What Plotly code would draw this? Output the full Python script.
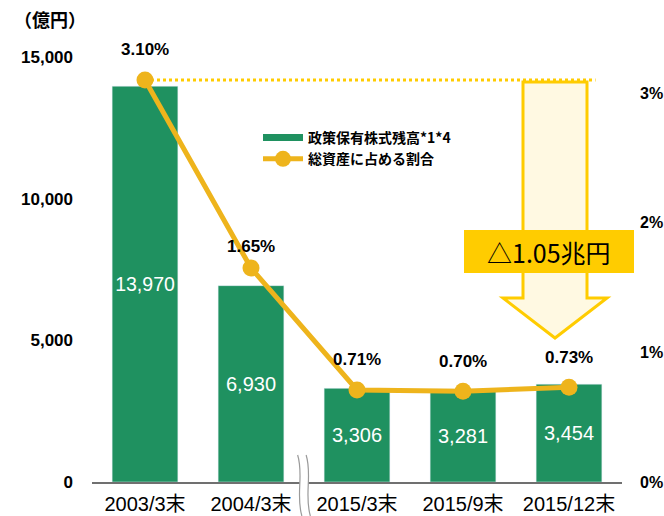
import plotly.graph_objects as go

categories = ["2003/3末", "2004/3末", "2015/3末", "2015/9末", "2015/12末"]
holdings = [13970, 6930, 3306, 3281, 3454]
ratio = [3.10, 1.65, 0.71, 0.70, 0.73]
ratio_labels = ["3.10%", "1.65%", "0.71%", "0.70%", "0.73%"]
ratio_label_shift = [30, 22, 30, 30, 30]
left_ticks = [0, 5000, 10000, 15000]
right_ticks = [0, 1, 2, 3]
right_tick_text = ["0%", "1%", "2%", "3%"]

GREEN = "#1F9160"
GOLD = "#EEB41C"
YEL = "#FFCC00"

W, H = 664, 516
L, R, T, B = 92, 42, 57, 34
PW = W - L - R
PH = H - T - B

def px(x):
    return (x - L) / PW

def py(y):
    return (H - B - y) / PH

fig = go.Figure()
fig.add_trace(go.Bar(
    x=categories, y=holdings, marker_color=GREEN, width=0.62,
    text=[f"{v:,}" for v in holdings], textposition="inside", textangle=0,
    insidetextanchor="middle",
    textfont=dict(color="white", size=20, family="Liberation Sans, Arial, sans-serif"),
    showlegend=False, hoverinfo="skip",
))
fig.add_trace(go.Scatter(
    x=[None], y=[None], mode="lines", line=dict(color=GREEN, width=7),
    name="<b>政策保有株式残高*1*4</b>",
))
fig.add_trace(go.Scatter(
    x=categories, y=ratio, yaxis="y2", mode="lines+markers",
    line=dict(color=GOLD, width=5), marker=dict(color=GOLD, size=17),
    name="<b>総資産に占める割合</b>",
))

for c, v, t, s in zip(categories, ratio, ratio_labels, ratio_label_shift):
    fig.add_annotation(x=c, y=v, yref="y2", text=f"<b>{t}</b>", showarrow=False,
                       yshift=s, font=dict(size=17, color="black",
                                           family="Liberation Sans, sans-serif"))

# dotted reference line at first ratio
fig.add_shape(type="line", xref="x", yref="y2", x0=0, x1=4.25, y0=ratio[0], y1=ratio[0],
              line=dict(color=YEL, width=3, dash="dot"), layer="below")

# big arrow (decoration)
ax0, ax1 = px(523), px(587)
hx0, hx1, tipx = px(503), px(607), px(555)
ytop, yhead, ytip = py(82), py(298), py(338)
path = (f"M {ax0},{ytop} L {ax1},{ytop} L {ax1},{yhead} L {hx1},{yhead} "
        f"L {tipx},{ytip} L {hx0},{yhead} L {ax0},{yhead} Z")
fig.add_shape(type="path", xref="paper", yref="paper", path=path,
              fillcolor="#FFF9E2", line=dict(color=YEL, width=3))
fig.add_shape(type="rect", xref="paper", yref="paper",
              x0=px(464), x1=px(634), y0=py(273), y1=py(230),
              fillcolor=YEL, line=dict(width=0))
fig.add_annotation(xref="paper", yref="paper", x=(px(464) + px(634)) / 2, y=(py(273) + py(230)) / 2,
                   xanchor="center", yanchor="middle",
                   text="△1.05兆円", showarrow=False,
                   font=dict(size=25, color="black", family="Noto Sans CJK JP, sans-serif"))

# axis break mark
bx = px(304)
fig.add_shape(type="rect", xref="paper", yref="paper", x0=bx - 0.008, x1=bx + 0.008,
              y0=py(516), y1=py(455), fillcolor="white", line=dict(width=0), layer="above")
for dx in (-0.008, 0.008):
    fig.add_shape(type="path", xref="paper", yref="paper",
                  path=(f"M {bx+dx-0.004},{py(455)} C {bx+dx+0.008},{py(475)} "
                        f"{bx+dx-0.008},{py(495)} {bx+dx+0.004},{py(516)}"),
                  line=dict(color="#9A9A9A", width=1.2), layer="above")

fig.add_annotation(xref="paper", yref="paper", x=px(12), y=py(19), xanchor="left", yanchor="middle",
                   text="<b>（億円）</b>", showarrow=False,
                   font=dict(size=18, color="black", family="Noto Sans CJK JP, sans-serif"))

fig.update_layout(
    width=W, height=H, margin=dict(l=L, r=R, t=T, b=B, autoexpand=False),
    plot_bgcolor="white", paper_bgcolor="white", bargap=0.38,
    font=dict(family="Noto Sans CJK JP, sans-serif", color="black"),
    xaxis=dict(showgrid=False, showline=True, linecolor="#707070", linewidth=2,
               ticks="", tickfont=dict(size=20, family="Liberation Sans, Noto Sans CJK JP, sans-serif"),
               range=[-0.5, 4.5], ticklabelstandoff=3, automargin=False),
    yaxis=dict(range=[0, 15000], tickvals=left_ticks,
               ticktext=[f"<b>{v:,}</b>" for v in left_ticks], showgrid=False,
               zeroline=False, showline=False, ticks="", automargin=False,
               tickfont=dict(size=17, family="Liberation Sans, sans-serif", color="black"),
               ticklabelstandoff=18),
    yaxis2=dict(overlaying="y", side="right", range=[0, (H - B - T) / 129.7],
                tickvals=right_ticks, ticktext=[f"<b>{t}</b>" for t in right_tick_text],
                showgrid=False, zeroline=False, showline=False, ticks="", automargin=False,
                tickfont=dict(size=16, family="Liberation Sans, sans-serif", color="black"),
                ticklabelstandoff=17),
    legend=dict(x=px(258), y=py(122), xanchor="left", yanchor="top",
                bgcolor="rgba(0,0,0,0)", font=dict(size=14, family="Noto Sans CJK JP, sans-serif"),
                itemwidth=40, tracegroupgap=4),
    showlegend=True,
)

fig.write_html("out.html")
